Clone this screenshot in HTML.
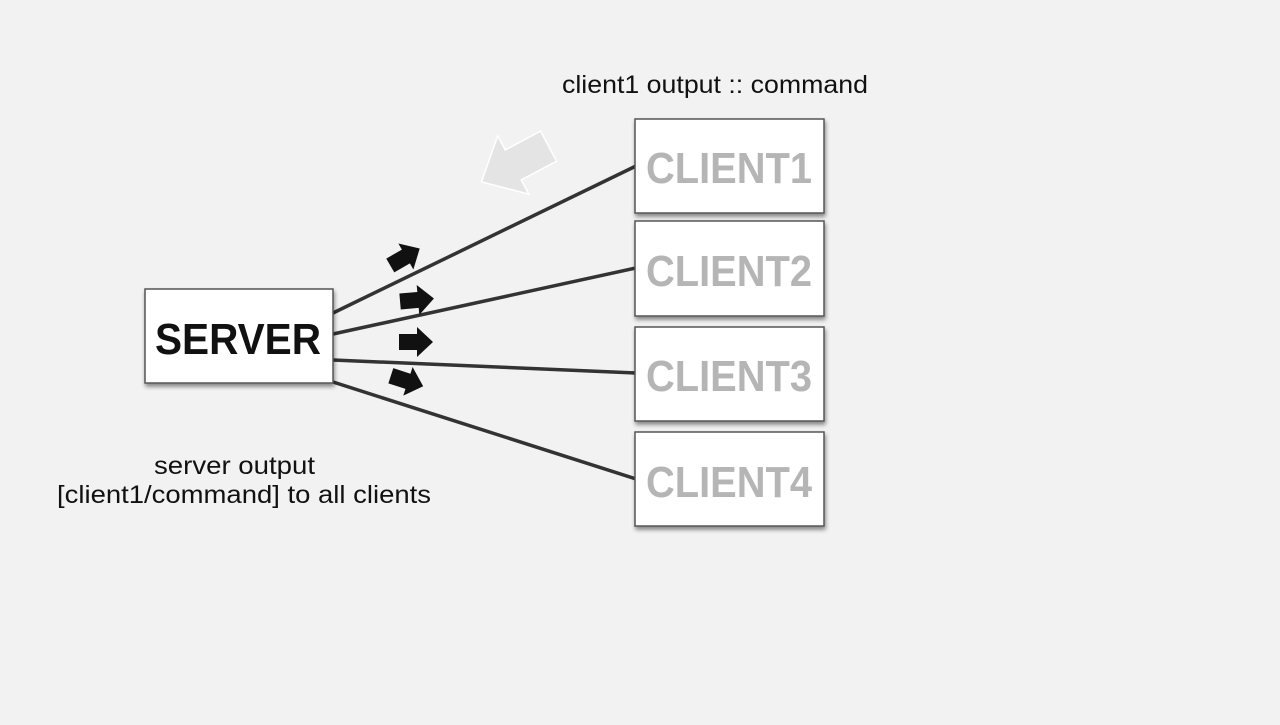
<!DOCTYPE html>
<html><head><style>
body{margin:0;width:1280px;height:720px;background:#f2f2f2;overflow:hidden;font-family:"Liberation Sans",sans-serif}
</style></head><body>
<svg width="1280" height="720" xmlns="http://www.w3.org/2000/svg">
<defs>
<filter id="sh" x="-10%" y="-10%" width="130%" height="130%"><feDropShadow dx="1" dy="3" stdDeviation="2" flood-color="#000" flood-opacity="0.45"/></filter>
<path id="ar" d="M-17,-8 L1,-8 L1,-15 L17,0 L1,15 L1,8 L-17,8 Z"/>
</defs>
<g stroke="#333" stroke-width="3.5" fill="none">
<line x1="333" y1="313" x2="636" y2="166"/>
<line x1="333" y1="334" x2="636" y2="268"/>
<line x1="333" y1="360" x2="636" y2="373"/>
<line x1="333" y1="382" x2="636" y2="479"/>
</g>
<g fill="#111">
<use href="#ar" transform="translate(405,257) rotate(-30)"/>
<use href="#ar" transform="translate(417,300) rotate(-5)"/>
<use href="#ar" transform="translate(416,342)"/>
<use href="#ar" transform="translate(407,381) rotate(18)"/>
</g>
<path d="M-38,-17 L2,-17 L2,-33 L38,0 L2,33 L2,17 L-38,17 Z" fill="#e4e4e4" stroke="#fff" stroke-width="1.5" transform="translate(515,164) rotate(152)"/>
<g filter="url(#sh)" fill="#fff" stroke="#555" stroke-width="1.5">
<rect x="145" y="289" width="188" height="94"/>
<rect x="635" y="119" width="189" height="94"/>
<rect x="635" y="221" width="189" height="95"/>
<rect x="635" y="327" width="189" height="94"/>
<rect x="635" y="432" width="189" height="94"/>
</g>
<text x="155" y="354" textLength="166" lengthAdjust="spacingAndGlyphs" font-size="44" font-weight="bold" fill="#111">SERVER</text>
<g font-size="44" font-weight="bold" fill="#b5b5b5">
<text x="646" y="183" textLength="166" lengthAdjust="spacingAndGlyphs">CLIENT1</text>
<text x="646" y="286" textLength="166" lengthAdjust="spacingAndGlyphs">CLIENT2</text>
<text x="646" y="391" textLength="166" lengthAdjust="spacingAndGlyphs">CLIENT3</text>
<text x="646" y="497" textLength="166" lengthAdjust="spacingAndGlyphs">CLIENT4</text>
</g>
<g font-size="25" fill="#111">
<text x="562" y="93" textLength="306" lengthAdjust="spacingAndGlyphs">client1 output :: command</text>
<text x="154" y="474" textLength="161" lengthAdjust="spacingAndGlyphs">server output</text>
<text x="57" y="503" textLength="374" lengthAdjust="spacingAndGlyphs">[client1/command] to all clients</text>
</g>
</svg>
</body></html>
